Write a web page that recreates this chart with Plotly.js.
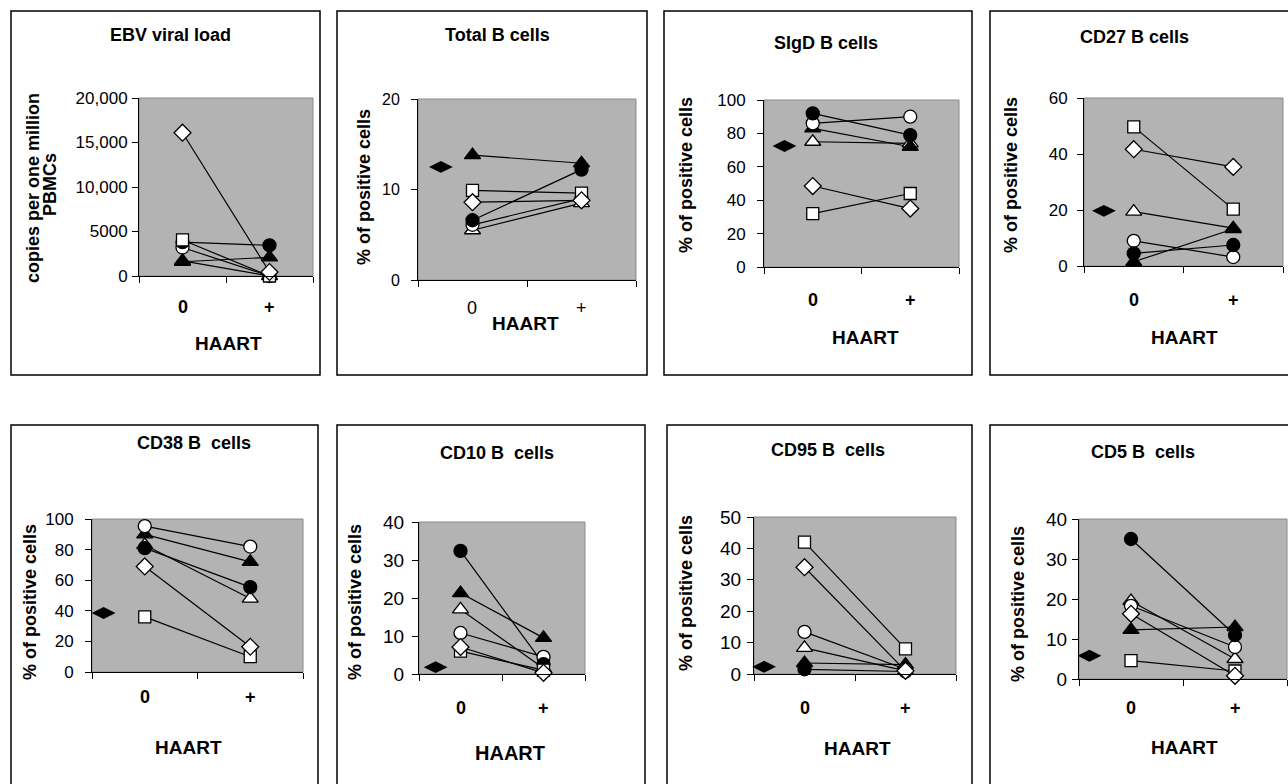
<!DOCTYPE html>
<html><head><meta charset="utf-8">
<script src="https://cdn.plot.ly/plotly-3.0.1.min.js"></script>
<style>html,body{margin:0;padding:0;background:#fff;overflow:hidden}</style>
</head><body><div id="chart" style="width:1288px;height:784px"></div>
<script>
// ---------- DATA ----------
const panelTitles = ['EBV viral load','Total B cells','SIgD B cells','CD27 B cells','CD38 B  cells','CD10 B  cells','CD95 B  cells','CD5 B  cells'];
const yTitles = ['copies per one million|PBMCs','% of positive cells','% of positive cells','% of positive cells','% of positive cells','% of positive cells','% of positive cells','% of positive cells'];
const xTitle = 'HAART';
const haartLabels = ['0','+'];
const yMax = [20000,20,100,60,100,40,50,40];
const yTickVals = [[0,5000,10000,15000,20000],[0,10,20],[0,20,40,60,80,100],[0,20,40,60],[0,20,40,60,80,100],[0,10,20,30,40],[0,10,20,30,40,50],[0,10,20,30,40]];
const yTickText = [['0','5000','10,000','15,000','20,000'],null,null,null,null,null,null,null];
// each subject: [before HAART, after HAART] per panel
const filledCircle   = [[3800,3450],[6.6,12.2],[92,79],[4.5,7.5],[81,55.5],[32.4,2.6],[1.5,0.8],[35,11]];
const openCircle     = [[3200,0],[6.1,9.0],[86,90],[9,3.2],[95.4,82],[10.8,4.5],[13.4,1.5],[18.3,8]];
const filledTriangle = [[1600,2100],[13.8,12.9],[83,72],[1.5,13.2],[90,72],[21.3,9.5],[3.5,3],[12.3,13]];
const openTriangle   = [[1700,0],[5.5,8.5],[75,74],[19.4,13.5],[83,48],[17,1.5],[8.3,1],[19.5,5]];
const openDiamond    = [[16100,450],[8.6,8.8],[48.5,35],[41.7,35.4],[69,16.5],[7.1,0.3],[34,1],[16.3,0.8]];
const openSquare     = [[4050,0],[9.9,9.6],[32,44],[49.7,20.3],[36,10],[6,1],[42,8],[4.6,2]];
const controlValue   = [null,12.5,72.5,19.7,38.6,1.8,2.3,5.8];
const controlX       = [null,-0.29,-0.29,-0.3,-0.39,-0.3,-0.4,-0.4];

// ---------- LAYOUT GEOMETRY (pixels) ----------
const W = 1288, H = 784;
const plotPx = [[139,98,313,276],[418,99,636,280],[764,100,959,267],[1084,98,1283,266],[92,519,303,672],[419,522,585,674],[754,517,956,674],[1079,519,1287,679]];
const framePx = [[11,11,320,375],[337,11,647,375],[664,11,972,375],[990,11,1300,375],[11,425,318,800],[337,425,645,800],[667,425,972,800],[990,425,1300,800]];
const titlePos = [[171,35],[497,35],[826,43],[1134,37],[194,443],[497,453],[828,450],[1143,452]];
const yTitlePos = [[41,188],[364,187],[686,175],[1011,175],[30,602],[355,602],[686,593],[1018,604]];
const catLabelY = [307,308,300,300,697,708,708,708];
const haartPos = [[228,343],[525,323],[865,337],[1184,337],[188,747],[510,753],[857,748],[1184,747]];
const tickFont = [17,16,17,17,17,19,19,19];
const tickStand = [1,8,8,6,8,4,2,1];
const FONT = 'Liberation Sans, Arial, sans-serif';
const px2x = p => p / W, py2y = p => 1 - p / H;

const subjects = [
  {d: openTriangle,   sym:'triangle-up', fill:'#ffffff', size:14},
  {d: filledTriangle, sym:'triangle-up', fill:'#000000', size:14},
  {d: openCircle,     sym:'circle',      fill:'#ffffff', size:13},
  {d: filledCircle,   sym:'circle',      fill:'#000000', size:13},
  {d: openSquare,     sym:'square',      fill:'#ffffff', size:12},
  {d: openDiamond,    sym:'diamond',     fill:'#ffffff', size:13}
];

const traces = [];
const layout = {
  width: W, height: H,
  margin: {l:0, r:0, t:0, b:0},
  paper_bgcolor: '#ffffff',
  plot_bgcolor: '#b3b3b3',
  showlegend: false,
  hovermode: false,
  font: {family: FONT, color: '#000'},
  annotations: [],
  shapes: []
};

for (let i = 0; i < 8; i++) {
  const n = i === 0 ? '' : String(i + 1);
  const xa = 'x' + n, ya = 'y' + n;
  const [l, t, r, b] = plotPx[i];
  layout['xaxis' + n] = {
    domain: [px2x(l), px2x(r)], anchor: ya, range: [-0.5, 1.5],
    tickmode: 'array', tickvals: [-0.5, 0.5, 1.5], showticklabels: false,
    ticks: 'outside', ticklen: 6, tickwidth: 1, tickcolor: '#000',
    showline: true, linecolor: '#000', linewidth: 1,
    showgrid: false, zeroline: false, fixedrange: true
  };
  const yax = {
    domain: [py2y(b), py2y(t)], anchor: xa, range: [0, yMax[i]],
    tickmode: 'array', tickvals: yTickVals[i],
    ticks: 'outside', ticklen: 6, tickwidth: 1, tickcolor: '#000',
    ticklabelstandoff: tickStand[i],
    tickfont: {family: FONT, size: tickFont[i], color: '#000'},
    showline: true, linecolor: '#000', linewidth: 1,
    showgrid: false, zeroline: false, fixedrange: true
  };
  if (yTickText[i]) yax.ticktext = yTickText[i];
  layout['yaxis' + n] = yax;

  // lines first
  subjects.forEach(s => {
    traces.push({x: [0, 1], y: s.d[i], xaxis: xa, yaxis: ya, type: 'scatter', mode: 'lines',
      line: {color: '#000', width: 1.2}, cliponaxis: false});
  });
  subjects.forEach(s => {
    traces.push({x: [0, 1], y: s.d[i], xaxis: xa, yaxis: ya, type: 'scatter', mode: 'markers',
      marker: {symbol: s.sym, color: s.fill, size: s.size, line: {color: '#000', width: 1.3}}, cliponaxis: false});
  });
  if (controlValue[i] !== null) {
    traces.push({x: [controlX[i]], y: [controlValue[i]], xaxis: xa, yaxis: ya, type: 'scatter', mode: 'markers',
      marker: {symbol: 'diamond-wide', color: '#000', size: 17, line: {color: '#000', width: 0}}, cliponaxis: false});
  }

  // frame
  const f = framePx[i];
  layout.shapes.push({type: 'rect', xref: 'paper', yref: 'paper', x0: px2x(f[0]), x1: px2x(f[2]), y0: py2y(f[3]), y1: py2y(f[1]),
    line: {color: '#000', width: 1.5}, fillcolor: 'rgba(0,0,0,0)'});
  // gray area border
  layout.shapes.push({type: 'rect', xref: xa + ' domain', yref: ya + ' domain', x0: 0, x1: 1, y0: 0, y1: 1,
    line: {color: '#8a8a8a', width: 1}, layer: 'below'});

  // panel title
  layout.annotations.push({text: panelTitles[i], xref: 'paper', yref: 'paper', x: px2x(titlePos[i][0]), y: py2y(titlePos[i][1]),
    xanchor: 'center', yanchor: 'middle', showarrow: false, font: {family: FONT, size: 18, weight: 700}});
  // y title
  const parts = yTitles[i].split('|');
  if (parts.length === 2) {
    layout.annotations.push({text: parts[0], xref: 'paper', yref: 'paper', x: px2x(33), y: py2y(yTitlePos[i][1]),
      textangle: -90, xanchor: 'center', yanchor: 'middle', showarrow: false, font: {family: FONT, size: 18, weight: 700}});
    layout.annotations.push({text: parts[1], xref: 'paper', yref: 'paper', x: px2x(50), y: py2y(yTitlePos[i][1] - 4),
      textangle: -90, xanchor: 'center', yanchor: 'middle', showarrow: false, font: {family: FONT, size: 18, weight: 700}});
  } else {
    layout.annotations.push({text: parts[0], xref: 'paper', yref: 'paper', x: px2x(yTitlePos[i][0]), y: py2y(yTitlePos[i][1]),
      textangle: -90, xanchor: 'center', yanchor: 'middle', showarrow: false, font: {family: FONT, size: 18, weight: 700}});
  }
  // category labels
  haartLabels.forEach((lab, k) => {
    layout.annotations.push({text: lab, xref: xa, yref: 'paper', x: k, y: py2y(catLabelY[i]),
      xanchor: 'center', yanchor: 'middle', showarrow: false,
      font: {family: FONT, size: 18, weight: i === 1 ? 400 : 700}});
  });
  // HAART title
  layout.annotations.push({text: xTitle, xref: 'paper', yref: 'paper', x: px2x(haartPos[i][0]), y: py2y(haartPos[i][1]),
    xanchor: 'center', yanchor: 'middle', showarrow: false, font: {family: FONT, size: i === 5 ? 20 : 19, weight: 700}});
}

Plotly.newPlot('chart', traces, layout, {staticPlot: true, displayModeBar: false});
</script></body></html>
